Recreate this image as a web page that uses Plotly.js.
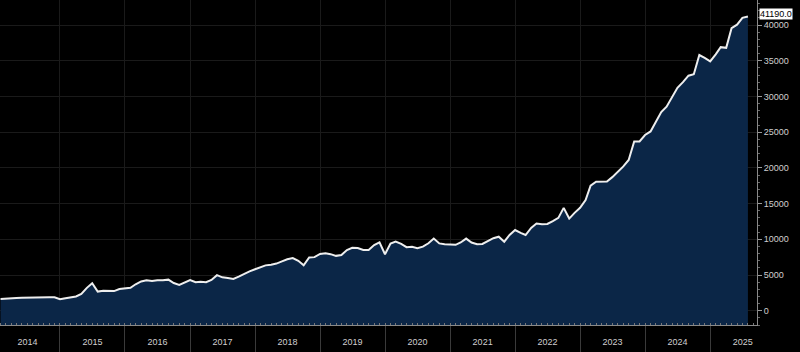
<!DOCTYPE html>
<html>
<head>
<meta charset="utf-8">
<script src="https://cdn.plot.ly/plotly-3.0.1.min.js"></script>
<style>html,body{margin:0;padding:0;background:#000;}#chart{width:800px;height:352px;}</style>
</head>
<body>
<div id="chart"></div>
<script>
// Month-end observations (dated on first day of following month)
const months = [
"2014-02","2014-03","2014-04","2014-05","2014-06","2014-07","2014-08","2014-09","2014-10","2014-11","2014-12","2015-01",
"2015-02","2015-03","2015-04","2015-05","2015-06","2015-07","2015-08","2015-09","2015-10","2015-11","2015-12","2016-01",
"2016-02","2016-03","2016-04","2016-05","2016-06","2016-07","2016-08","2016-09","2016-10","2016-11","2016-12","2017-01",
"2017-02","2017-03","2017-04","2017-05","2017-06","2017-07","2017-08","2017-09","2017-10","2017-11","2017-12","2018-01",
"2018-02","2018-03","2018-04","2018-05","2018-06","2018-07","2018-08","2018-09","2018-10","2018-11","2018-12","2019-01",
"2019-02","2019-03","2019-04","2019-05","2019-06","2019-07","2019-08","2019-09","2019-10","2019-11","2019-12","2020-01",
"2020-02","2020-03","2020-04","2020-05","2020-06","2020-07","2020-08","2020-09","2020-10","2020-11","2020-12","2021-01",
"2021-02","2021-03","2021-04","2021-05","2021-06","2021-07","2021-08","2021-09","2021-10","2021-11","2021-12","2022-01",
"2022-02","2022-03","2022-04","2022-05","2022-06","2022-07","2022-08","2022-09","2022-10","2022-11","2022-12","2023-01",
"2023-02","2023-03","2023-04","2023-05","2023-06","2023-07","2023-08","2023-09","2023-10","2023-11","2023-12","2024-01",
"2024-02","2024-03","2024-04","2024-05","2024-06","2024-07","2024-08","2024-09","2024-10","2024-11","2024-12","2025-01",
"2025-02","2025-03","2025-04","2025-05","2025-06","2025-07","2025-08"
];
const values = [
1650,1720,1740,1790,1830,1840,1880,1960,1950,1890,1880,1600,
1750,1840,2000,2350,3200,3850,2680,2800,2780,2750,3030,3100,
3220,3700,4100,4250,4150,4280,4250,4350,3880,3620,3900,4300,
3980,4050,3980,4300,4980,4670,4580,4450,4780,5200,5500,5800,
6100,6350,6450,6600,6900,7200,7380,6980,6350,7450,7500,7950,
8040,7920,7680,7800,8500,8800,8780,8500,8500,9200,9580,7900,
9400,9680,9350,8900,8950,8760,8970,9440,10100,9420,9300,9300,
9220,9550,10100,9550,9300,9350,9700,10150,10360,9660,10600,11300,
10900,10600,11600,12200,12100,12150,12550,13000,14400,12900,13700,14400,
15500,17500,18050,18070,18100,18700,19400,20200,21100,23700,23700,24600,
25100,26500,27800,28570,30000,31200,32000,32900,33100,35800,35400,34900,
35900,36900,36800,39550,40050,41000,41190
];
const lastLabel = "41190.0";
const yRange = [-2000, 43500];
const xRange = ["2014-01-29", "2025-09-21"];

const baseline = months.map(() => yRange[0]);

const traces = [
  {x: months, y: baseline, type: "scatter", mode: "lines", line: {width: 0, color: "rgba(0,0,0,0)"}, hoverinfo: "skip", showlegend: false},
  {x: months, y: values, type: "scatter", mode: "lines", fill: "tonexty", fillcolor: "#0b2647",
   line: {color: "#eeeeee", width: 2}, showlegend: false}
];

const layout = {
  width: 800, height: 352,
  paper_bgcolor: "#000000", plot_bgcolor: "#000000",
  margin: {l: 0, r: 43, t: 0, b: 27, pad: 0},
  showlegend: false,
  font: {family: "Liberation Sans, Arial, sans-serif", color: "#cfcfcf", size: 9},
  xaxis: {
    type: "date", range: xRange,
    tick0: "2014-01-01", dtick: "M12", tickformat: "%Y", ticklabelmode: "period",
    ticks: "outside", ticklen: 27, tickcolor: "#3a3a3a", tickwidth: 1,
    ticklabelstandoff: -19,
    tickfont: {size: 9, color: "#cfcfcf"},
    showgrid: true, gridcolor: "#1a1a1a", gridwidth: 1,
    showline: true, linecolor: "#8a8a8a", linewidth: 1,
    zeroline: false, fixedrange: true,
    minor: {dtick: "M1", ticks: "inside", ticklen: 2, tickcolor: "#777", showgrid: false}
  },
  yaxis: {
    side: "right", range: yRange,
    tick0: 0, dtick: 5000, tickformat: "d",
    ticks: "outside", ticklen: 4, tickcolor: "#9a9a9a", tickwidth: 1,
    tickfont: {size: 9, color: "#cfcfcf"},
    showgrid: true, gridcolor: "#1a1a1a", gridwidth: 1,
    showline: true, linecolor: "#8a8a8a", linewidth: 1,
    zeroline: false, fixedrange: true,
    minor: {dtick: 1000, ticks: "outside", ticklen: 2, tickcolor: "#666", showgrid: false}
  },
  annotations: [{
    xref: "paper", x: 1, xanchor: "left", xshift: 2,
    yref: "y", y: values[values.length - 1], yanchor: "middle", yshift: 3,
    text: lastLabel, showarrow: false,
    bgcolor: "#ffffff", font: {color: "#000000", size: 9},
    borderpad: 0
  }]
};

Plotly.newPlot("chart", traces, layout, {displayModeBar: false, staticPlot: true});
</script>
</body>
</html>
